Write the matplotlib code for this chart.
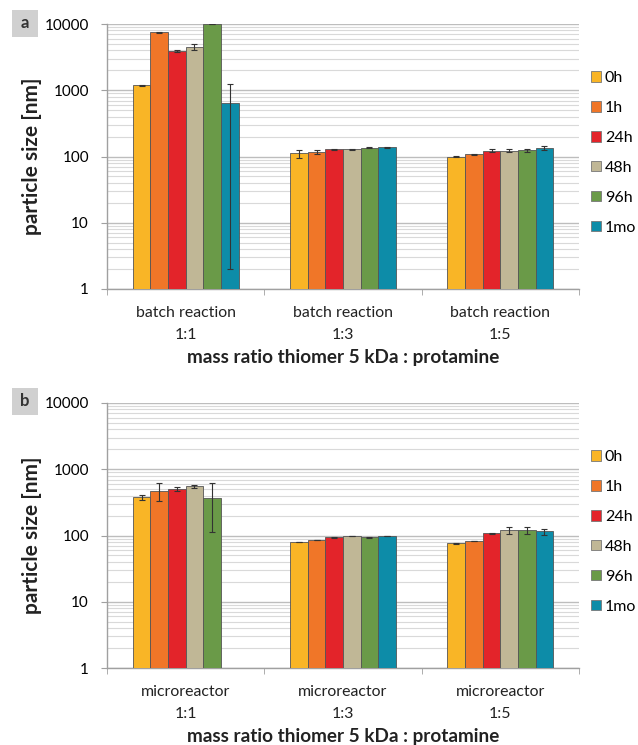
import numpy as np
import matplotlib
matplotlib.use("Agg")
import matplotlib.pyplot as plt
from matplotlib.patches import Patch, Rectangle

plt.rcParams['font.family'] = ['Lato', 'DejaVu Sans']

series = ["0h", "1h", "24h", "48h", "96h", "1mo"]
colors = ["#F9B526", "#F07628", "#E3242A", "#C0B796", "#6A9A48", "#0D8CA8"]

cats_a = ["batch reaction\n1:1", "batch reaction\n1:3", "batch reaction\n1:5"]
cats_b = ["microreactor\n1:1", "microreactor\n1:3", "microreactor\n1:5"]

# values per series: [1:1, 1:3, 1:5]
vals_a = {
    "0h":  [1190, 111, 99],
    "1h":  [7450, 118, 108],
    "24h": [3900, 129, 122],
    "48h": [4500, 129, 122],
    "96h": [10000, 135, 124],
    "1mo": [650, 137, 135],
}
err_lo_a = {
    "0h":  [20, 15, 2],
    "1h":  [100, 8, 2],
    "24h": [150, 2, 6],
    "48h": [450, 2, 6],
    "96h": [0, 2, 7],
    "1mo": [648, 2, 9],
}
err_hi_a = {
    "0h":  [20, 15, 2],
    "1h":  [100, 8, 2],
    "24h": [150, 2, 6],
    "48h": [450, 2, 6],
    "96h": [0, 2, 7],
    "1mo": [610, 2, 9],
}

vals_b = {
    "0h":  [376, 80, 76],
    "1h":  [470, 86, 83],
    "24h": [505, 94, 108],
    "48h": [555, 99, 120],
    "96h": [372, 94, 120],
    "1mo": [np.nan, 98, 115],
}
err_lo_b = {
    "0h":  [38, 1, 1],
    "1h":  [135, 1, 1],
    "24h": [35, 1, 1],
    "48h": [25, 1, 15],
    "96h": [260, 1, 15],
    "1mo": [0, 1, 12],
}
err_hi_b = {
    "0h":  [38, 1, 1],
    "1h":  [140, 1, 1],
    "24h": [35, 1, 1],
    "48h": [25, 1, 15],
    "96h": [250, 1, 15],
    "1mo": [0, 1, 12],
}

xlabel = "mass ratio thiomer 5 kDa : protamine"
ylabel = "particle size [nm]"

fig = plt.figure(figsize=(6.38, 7.45), dpi=100)

def panel(rect, cats, vals, elo, ehi, letter, letter_y):
    ax = fig.add_axes(rect)
    n = len(series)
    w = 0.112
    x = np.arange(len(cats))
    for i, s in enumerate(series):
        pos = x + (i - (n - 1) / 2) * w
        v = np.array(vals[s], dtype=float)
        ax.bar(pos, v, width=w, color=colors[i], edgecolor="#555555",
               linewidth=0.6, zorder=3)
        ok = ~np.isnan(v)
        yerr = np.array([elo[s], ehi[s]], dtype=float)
        ax.errorbar(pos[ok], v[ok], yerr=yerr[:, ok], fmt="none",
                    ecolor="#333333", elinewidth=0.8, capsize=2,
                    capthick=0.8, zorder=4)
    ax.set_yscale("log")
    ax.set_ylim(1, 10000)
    ax.set_xlim(-0.5, len(cats) - 0.5)
    ax.set_yticks([1, 10, 100, 1000, 10000])
    ax.set_yticklabels(["1", "10", "100", "1000", "10000"])
    ax.yaxis.set_minor_locator(matplotlib.ticker.LogLocator(base=10, subs=np.arange(2, 10)))
    ax.yaxis.set_minor_formatter(matplotlib.ticker.NullFormatter())
    ax.grid(True, which="major", axis="y", color="#BDBDBD", linewidth=1.0, zorder=0)
    ax.grid(True, which="minor", axis="y", color="#D9D9D9", linewidth=0.8, zorder=0)
    ax.set_xticks(x)
    ax.set_xticklabels(cats, fontsize=11.4, color="#222222", linespacing=1.75)
    ax.set_xticks(np.arange(len(cats) + 1) - 0.5, minor=True)
    ax.tick_params(axis="x", which="major", length=0, pad=12)
    ax.tick_params(axis="x", which="minor", length=4, color="#A0A0A0")
    ax.tick_params(axis="y", which="major", length=4, color="#A0A0A0", labelsize=11, pad=9)
    ax.tick_params(axis="y", which="minor", length=0)
    for sp in ["top", "right"]:
        ax.spines[sp].set_visible(False)
    for sp in ["left", "bottom"]:
        ax.spines[sp].set_color("#A0A0A0")
        ax.spines[sp].set_linewidth(1.0)
    ax.set_xlabel(xlabel, fontsize=13.6, fontweight="bold", labelpad=5, color="#222222")
    ax.set_ylabel(ylabel, fontsize=15, fontweight="bold", labelpad=2, color="#222222")
    handles = [Patch(facecolor=colors[i], edgecolor="#777777", linewidth=0.6, label=s)
               for i, s in enumerate(series)]
    ax.legend(handles=handles, loc="center left", bbox_to_anchor=(1.026, 0.513),
              frameon=False, fontsize=11.5, handlelength=0.6, handleheight=0.6,
              handletextpad=0.25, labelspacing=1.0, borderaxespad=0, borderpad=0)
    # panel letter
    fig.patches.append(Rectangle((12 / 638, letter_y), 26 / 638, 27 / 745,
                                 transform=fig.transFigure, facecolor="#D0D0D0",
                                 edgecolor="none"))
    fig.text(25 / 638, letter_y + 13.5 / 745, letter, ha="center", va="center",
             fontsize=12, fontweight="bold", color="#333333")
    return ax

ax_a = panel([107 / 638, 1 - 289 / 745, 472 / 638, 265 / 745], cats_a,
             vals_a, err_lo_a, err_hi_a, "a", 1 - 37 / 745)
ax_b = panel([107 / 638, 1 - 668 / 745, 472 / 638, 265 / 745], cats_b,
             vals_b, err_lo_b, err_hi_b, "b", 1 - 415 / 745)

fig.savefig("out.png", dpi=100)
